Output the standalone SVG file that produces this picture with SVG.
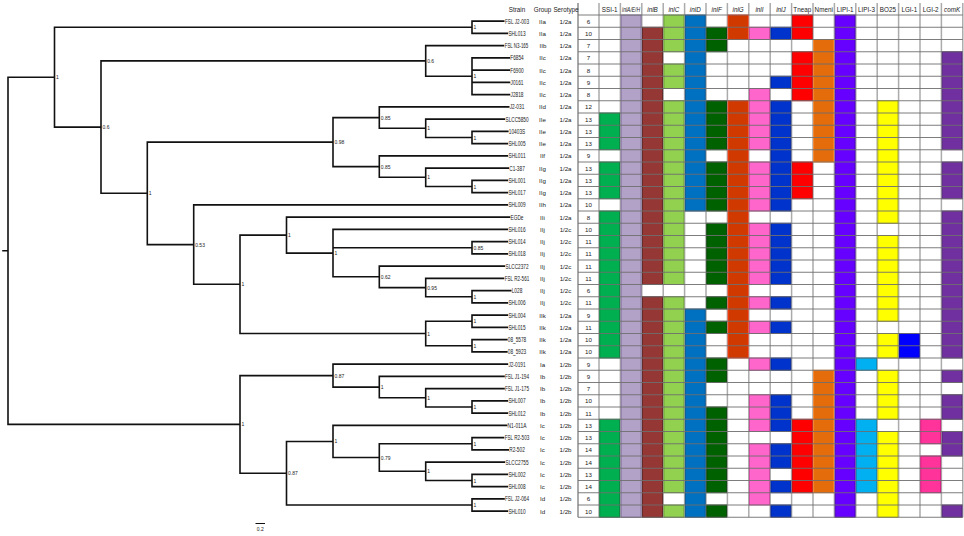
<svg xmlns="http://www.w3.org/2000/svg" width="964" height="536" viewBox="0 0 964 536">
<style>
text{font-family:"Liberation Sans",Arial,sans-serif;fill:#222}
.hd text{font-size:6.3px;text-anchor:middle}
.hd .it{font-style:italic}
.row text{font-size:6.2px;text-anchor:middle}
.row .s{font-size:6.8px}
.nl text{font-size:5px}
.tree{fill:none;stroke:#111;stroke-width:1.6;stroke-linecap:square}
.vg{fill:none;stroke:#ababab;stroke-width:1.5}
.hg{fill:none;stroke:#6e6e6e;stroke-width:0.9}
.cells rect{width:19.9px;stroke-width:0.9}
.c0 rect{fill:#00b050;stroke:#007a36}
.c1 rect{fill:#b3a2c7;stroke:#7d6899}
.c2 rect{fill:#953735;stroke:#5e201f}
.c3 rect{fill:#92d050;stroke:#6aa030}
.c4 rect{fill:#0070c0;stroke:#004f8a}
.c5 rect{fill:#006100;stroke:#003a00}
.c6 rect{fill:#d03a00;stroke:#ff2a00}
.c7 rect{fill:#ff66cc;stroke:#cc4499}
.c8 rect{fill:#0033cc;stroke:#001f88}
.c9 rect{fill:#ff0000;stroke:#c00000}
.c10 rect{fill:#e46c0a;stroke:#ff7a10}
.c11 rect{fill:#6600ff;stroke:#4400aa}
.c12 rect{fill:#00b0f0;stroke:#0088bb}
.c13 rect{fill:#ffff00;stroke:#b8b800}
.c14 rect{fill:#0000ff;stroke:#0000aa}
.c15 rect{fill:#ff3399;stroke:#cc1177}
.c16 rect{fill:#7030a0;stroke:#4b1e6e}
</style>
<rect width="964" height="536" fill="#fff"/>

<g id="grid-vertical">
<path class="vg" d="M599,3V517.25M620.4,3V517.25M641.8,3V517.25M663.2,3V517.25M684.6,3V517.25M706,3V517.25M727.4,3V517.25M748.8,3V517.25M770.2,3V517.25M791.6,3V517.25M813,3V517.25M834.4,3V517.25M855.8,3V517.25M877.2,3V517.25M898.6,3V517.25M920,3V517.25M941.4,3V517.25M962.8,3V517.25"/>
<path d="M578,3V517.25" fill="none" stroke="#7a7a7a" stroke-width="1.3"/>
</g>

<g id="cells" class="cells">
<g id="col-SSI-1" class="c0" transform="translate(599.75,0)"><rect y="113" height="36.75"/><rect y="162" height="36.75"/><rect y="211" height="147"/><rect y="419.25" height="98"/></g>
<g id="col-inlAEH" class="c1" transform="translate(621.15,0)"><rect y="15" height="502.25"/></g>
<g id="col-inlB" class="c2" transform="translate(642.55,0)"><rect y="27.25" height="257.25"/><rect y="296.75" height="220.5"/></g>
<g id="col-inlC" class="c3" transform="translate(663.95,0)"><rect y="15" height="36.75"/><rect y="64" height="24.5"/><rect y="100.75" height="183.75"/><rect y="296.75" height="196"/><rect y="505" height="12.25"/></g>
<g id="col-inlD" class="c4" transform="translate(685.35,0)"><rect y="15" height="196"/><rect y="309" height="208.25"/></g>
<g id="col-inlF" class="c5" transform="translate(706.75,0)"><rect y="27.25" height="24.5"/><rect y="100.75" height="49"/><rect y="162" height="49"/><rect y="223.25" height="61.25"/><rect y="296.75" height="12.25"/><rect y="321.25" height="12.25"/><rect y="358" height="24.5"/><rect y="407" height="85.75"/><rect y="505" height="12.25"/></g>
<g id="col-inlG" class="c6" transform="translate(728.15,0)"><rect y="15" height="24.5"/><rect y="100.75" height="257.25"/></g>
<g id="col-inlI" class="c7" transform="translate(749.55,0)"><rect y="27.25" height="12.25"/><rect y="88.5" height="61.25"/><rect y="162" height="49"/><rect y="223.25" height="61.25"/><rect y="296.75" height="12.25"/><rect y="321.25" height="12.25"/><rect y="358" height="12.25"/><rect y="394.75" height="36.75"/><rect y="443.75" height="61.25"/></g>
<g id="col-inlJ" class="c8" transform="translate(770.95,0)"><rect y="27.25" height="12.25"/><rect y="76.25" height="12.25"/><rect y="100.75" height="110.25"/><rect y="223.25" height="61.25"/><rect y="296.75" height="12.25"/><rect y="321.25" height="12.25"/><rect y="358" height="12.25"/><rect y="394.75" height="36.75"/><rect y="443.75" height="24.5"/><rect y="480.5" height="12.25"/><rect y="505" height="12.25"/></g>
<g id="col-Tneap" class="c9" transform="translate(792.35,0)"><rect y="15" height="24.5"/><rect y="51.75" height="49"/><rect y="162" height="36.75"/><rect y="419.25" height="73.5"/></g>
<g id="col-Nmeni" class="c10" transform="translate(813.75,0)"><rect y="39.5" height="122.5"/><rect y="370.25" height="122.5"/></g>
<g id="col-LIPI-1" class="c11" transform="translate(835.15,0)"><rect y="15" height="502.25"/></g>
<g id="col-LIPI-3" class="c12" transform="translate(856.55,0)"><rect y="358" height="12.25"/><rect y="419.25" height="73.5"/></g>
<g id="col-BO25" class="c13" transform="translate(877.95,0)"><rect y="100.75" height="122.5"/><rect y="235.5" height="85.75"/><rect y="333.5" height="24.5"/><rect y="370.25" height="49"/><rect y="431.5" height="85.75"/></g>
<g id="col-LGI-1" class="c14" transform="translate(899.35,0)"><rect y="333.5" height="24.5"/></g>
<g id="col-LGI-2" class="c15" transform="translate(920.75,0)"><rect y="419.25" height="24.5"/><rect y="456" height="36.75"/></g>
<g id="col-comK" class="c16" transform="translate(942.15,0)"><rect y="51.75" height="98"/><rect y="162" height="36.75"/><rect y="211" height="147"/><rect y="370.25" height="12.25"/><rect y="394.75" height="24.5"/><rect y="431.5" height="24.5"/><rect y="505" height="12.25"/></g>
</g>

<g id="grid-horizontal">
<path class="hg" d="M578,15H962.8M578,27.25H962.8M578,39.5H962.8M578,51.75H962.8M578,64H962.8M578,76.25H962.8M578,88.5H962.8M578,100.75H962.8M578,113H962.8M578,125.25H962.8M578,137.5H962.8M578,149.75H962.8M578,162H962.8M578,174.25H962.8M578,186.5H962.8M578,198.75H962.8M578,211H962.8M578,223.25H962.8M578,235.5H962.8M578,247.75H962.8M578,260H962.8M578,272.25H962.8M578,284.5H962.8M578,296.75H962.8M578,309H962.8M578,321.25H962.8M578,333.5H962.8M578,345.75H962.8M578,358H962.8M578,370.25H962.8M578,382.5H962.8M578,394.75H962.8M578,407H962.8M578,419.25H962.8M578,431.5H962.8M578,443.75H962.8M578,456H962.8M578,468.25H962.8M578,480.5H962.8M578,492.75H962.8M578,505H962.8M578,517.25H962.8"/>
</g>

<g id="header" class="hd" transform="translate(0,11.5)">
<text x="517">Strain</text><text x="542.5">Group</text><text x="566">Serotype</text>
<text x="609.7">SSI-1</text>
<text x="631.1" class="it" textLength="18" lengthAdjust="spacingAndGlyphs">inlA/E/H</text>
<text x="652.5" class="it">inlB</text>
<text x="673.9" class="it">inlC</text>
<text x="695.3" class="it">inlD</text>
<text x="716.7" class="it">inlF</text>
<text x="738.1" class="it">inlG</text>
<text x="759.5" class="it">inlI</text>
<text x="780.9" class="it">inlJ</text>
<text x="802.3">Tneap</text>
<text x="823.7">Nmeni</text>
<text x="845.1">LIPI-1</text>
<text x="866.5">LIPI-3</text>
<text x="887.9">BO25</text>
<text x="909.3">LGI-1</text>
<text x="930.7">LGI-2</text>
<text x="952.1" class="it">comK</text>
</g>

<g id="rows" class="row">
<g id="r01" transform="translate(0,23.5)"><text x="517" class="s" textLength="24" lengthAdjust="spacingAndGlyphs">FSL J2-003</text><text x="542.5">IIa</text><text x="565.5">1/2a</text><text x="588.5">6</text></g>
<g id="r02" transform="translate(0,35.8)"><text x="517" class="s" textLength="17.2" lengthAdjust="spacingAndGlyphs">SHL013</text><text x="542.5">IIa</text><text x="565.5">1/2a</text><text x="588.5">10</text></g>
<g id="r03" transform="translate(0,48)"><text x="516.5" class="s" textLength="23.5" lengthAdjust="spacingAndGlyphs">FSL N3-165</text><text x="543">IIb</text><text x="565.5">1/2a</text><text x="588.5">7</text></g>
<g id="r04" transform="translate(0,60.3)"><text x="517" class="s" textLength="13.5" lengthAdjust="spacingAndGlyphs">F6854</text><text x="542.5">IIc</text><text x="565.5">1/2a</text><text x="588.5">7</text></g>
<g id="r05" transform="translate(0,72.5)"><text x="517" class="s" textLength="13.5" lengthAdjust="spacingAndGlyphs">F6900</text><text x="542.5">IIc</text><text x="565.5">1/2a</text><text x="588.5">8</text></g>
<g id="r06" transform="translate(0,84.8)"><text x="517" class="s" textLength="13" lengthAdjust="spacingAndGlyphs">J0161</text><text x="542.5">IIc</text><text x="565.5">1/2a</text><text x="588.5">9</text></g>
<g id="r07" transform="translate(0,97)"><text x="517" class="s" textLength="13" lengthAdjust="spacingAndGlyphs">J2818</text><text x="542.5">IIc</text><text x="565.5">1/2a</text><text x="588.5">8</text></g>
<g id="r08" transform="translate(0,109.3)"><text x="517" class="s" textLength="14.6" lengthAdjust="spacingAndGlyphs">J2-031</text><text x="542.5">IId</text><text x="565.5">1/2a</text><text x="588.5">12</text></g>
<g id="r09" transform="translate(0,121.5)"><text x="517" class="s" textLength="23" lengthAdjust="spacingAndGlyphs">SLCC5850</text><text x="542.5">IIe</text><text x="565.5">1/2a</text><text x="588.5">13</text></g>
<g id="r10" transform="translate(0,133.8)"><text x="517" class="s" textLength="16.4" lengthAdjust="spacingAndGlyphs">10403S</text><text x="542.5">IIe</text><text x="565.5">1/2a</text><text x="588.5">13</text></g>
<g id="r11" transform="translate(0,146)"><text x="517" class="s" textLength="17.2" lengthAdjust="spacingAndGlyphs">SHL005</text><text x="542.5">IIe</text><text x="565.5">1/2a</text><text x="588.5">13</text></g>
<g id="r12" transform="translate(0,158.3)"><text x="517" class="s" textLength="17.2" lengthAdjust="spacingAndGlyphs">SHL011</text><text x="542.5">IIf</text><text x="565.5">1/2a</text><text x="588.5">9</text></g>
<g id="r13" transform="translate(0,170.5)"><text x="517" class="s" textLength="15.6" lengthAdjust="spacingAndGlyphs">C1-387</text><text x="542.5">IIg</text><text x="565.5">1/2a</text><text x="588.5">13</text></g>
<g id="r14" transform="translate(0,182.8)"><text x="517" class="s" textLength="17.2" lengthAdjust="spacingAndGlyphs">SHL001</text><text x="542.5">IIg</text><text x="565.5">1/2a</text><text x="588.5">13</text></g>
<g id="r15" transform="translate(0,195)"><text x="517" class="s" textLength="17.2" lengthAdjust="spacingAndGlyphs">SHL017</text><text x="542.5">IIg</text><text x="565.5">1/2a</text><text x="588.5">13</text></g>
<g id="r16" transform="translate(0,207.3)"><text x="517" class="s" textLength="17.2" lengthAdjust="spacingAndGlyphs">SHL009</text><text x="542.5">IIh</text><text x="565.5">1/2a</text><text x="588.5">10</text></g>
<g id="r17" transform="translate(0,219.5)"><text x="517" class="s" textLength="13" lengthAdjust="spacingAndGlyphs">EGDe</text><text x="542.5">IIi</text><text x="565.5">1/2a</text><text x="588.5">8</text></g>
<g id="r18" transform="translate(0,231.8)"><text x="517" class="s" textLength="17.2" lengthAdjust="spacingAndGlyphs">SHL016</text><text x="542.5">IIj</text><text x="565.5">1/2c</text><text x="588.5">10</text></g>
<g id="r19" transform="translate(0,244)"><text x="517" class="s" textLength="17.2" lengthAdjust="spacingAndGlyphs">SHL014</text><text x="542.5">IIj</text><text x="565.5">1/2c</text><text x="588.5">11</text></g>
<g id="r20" transform="translate(0,256.3)"><text x="517" class="s" textLength="17.2" lengthAdjust="spacingAndGlyphs">SHL018</text><text x="542.5">IIj</text><text x="565.5">1/2c</text><text x="588.5">11</text></g>
<g id="r21" transform="translate(0,268.5)"><text x="517" class="s" textLength="23" lengthAdjust="spacingAndGlyphs">SLCC2372</text><text x="542.5">IIj</text><text x="565.5">1/2c</text><text x="588.5">11</text></g>
<g id="r22" transform="translate(0,280.8)"><text x="517" class="s" textLength="24.6" lengthAdjust="spacingAndGlyphs">FSL R2-561</text><text x="542.5">IIj</text><text x="565.5">1/2c</text><text x="588.5">11</text></g>
<g id="r23" transform="translate(0,293)"><text x="517" class="s" textLength="10.6" lengthAdjust="spacingAndGlyphs">L028</text><text x="542.5">IIj</text><text x="565.5">1/2c</text><text x="588.5">6</text></g>
<g id="r24" transform="translate(0,305.3)"><text x="517" class="s" textLength="17.2" lengthAdjust="spacingAndGlyphs">SHL006</text><text x="542.5">IIj</text><text x="565.5">1/2c</text><text x="588.5">11</text></g>
<g id="r25" transform="translate(0,317.5)"><text x="517" class="s" textLength="17.2" lengthAdjust="spacingAndGlyphs">SHL004</text><text x="542.5">IIk</text><text x="565.5">1/2a</text><text x="588.5">9</text></g>
<g id="r26" transform="translate(0,329.8)"><text x="517" class="s" textLength="17.2" lengthAdjust="spacingAndGlyphs">SHL015</text><text x="542.5">IIk</text><text x="565.5">1/2a</text><text x="588.5">11</text></g>
<g id="r27" transform="translate(0,342)"><text x="517" class="s" textLength="18.5" lengthAdjust="spacingAndGlyphs">08_5578</text><text x="542.5">IIk</text><text x="565.5">1/2a</text><text x="588.5">10</text></g>
<g id="r28" transform="translate(0,354.3)"><text x="517" class="s" textLength="18.5" lengthAdjust="spacingAndGlyphs">08_5923</text><text x="542.5">IIk</text><text x="565.5">1/2a</text><text x="588.5">10</text></g>
<g id="r29" transform="translate(0,366.5)"><text x="517" class="s" textLength="17.2" lengthAdjust="spacingAndGlyphs">J2-0191</text><text x="542.5">Ia</text><text x="565.5">1/2b</text><text x="588.5">9</text></g>
<g id="r30" transform="translate(0,378.8)"><text x="517" class="s" textLength="24" lengthAdjust="spacingAndGlyphs">FSL J1-194</text><text x="542.5">Ib</text><text x="565.5">1/2b</text><text x="588.5">9</text></g>
<g id="r31" transform="translate(0,391)"><text x="517" class="s" textLength="24" lengthAdjust="spacingAndGlyphs">FSL J1-175</text><text x="542.5">Ib</text><text x="565.5">1/2b</text><text x="588.5">7</text></g>
<g id="r32" transform="translate(0,403.3)"><text x="517" class="s" textLength="17.2" lengthAdjust="spacingAndGlyphs">SHL007</text><text x="542.5">Ib</text><text x="565.5">1/2b</text><text x="588.5">10</text></g>
<g id="r33" transform="translate(0,415.5)"><text x="517" class="s" textLength="17.2" lengthAdjust="spacingAndGlyphs">SHL012</text><text x="542.5">Ib</text><text x="565.5">1/2b</text><text x="588.5">11</text></g>
<g id="r34" transform="translate(0,427.8)"><text x="517" class="s" textLength="18.8" lengthAdjust="spacingAndGlyphs">N1-011A</text><text x="542.5">Ic</text><text x="565.5">1/2b</text><text x="588.5">13</text></g>
<g id="r35" transform="translate(0,440)"><text x="517" class="s" textLength="24.6" lengthAdjust="spacingAndGlyphs">FSL R2-503</text><text x="542.5">Ic</text><text x="565.5">1/2b</text><text x="588.5">13</text></g>
<g id="r36" transform="translate(0,452.3)"><text x="517" class="s" textLength="15.6" lengthAdjust="spacingAndGlyphs">R2-502</text><text x="542.5">Ic</text><text x="565.5">1/2b</text><text x="588.5">14</text></g>
<g id="r37" transform="translate(0,464.5)"><text x="517" class="s" textLength="23" lengthAdjust="spacingAndGlyphs">SLCC2755</text><text x="542.5">Ic</text><text x="565.5">1/2b</text><text x="588.5">14</text></g>
<g id="r38" transform="translate(0,476.8)"><text x="517" class="s" textLength="17.2" lengthAdjust="spacingAndGlyphs">SHL002</text><text x="542.5">Ic</text><text x="565.5">1/2b</text><text x="588.5">13</text></g>
<g id="r39" transform="translate(0,489)"><text x="517" class="s" textLength="17.2" lengthAdjust="spacingAndGlyphs">SHL008</text><text x="542.5">Ic</text><text x="565.5">1/2b</text><text x="588.5">14</text></g>
<g id="r40" transform="translate(0,501.3)"><text x="517" class="s" textLength="24" lengthAdjust="spacingAndGlyphs">FSL J2-064</text><text x="542.5">Id</text><text x="565.5">1/2b</text><text x="588.5">6</text></g>
<g id="r41" transform="translate(0,513.5)"><text x="517" class="s" textLength="17.2" lengthAdjust="spacingAndGlyphs">SHL010</text><text x="542.5">Id</text><text x="565.5">1/2b</text><text x="588.5">10</text></g>
</g>

<g id="connectors">
<path class="tree" d="
M472,21.1V33.4M472,21.1H503.7M472,33.4H507.4
M472,57.9V94.6M472,57.9H509.3M472,70.1H509.3M472,82.4H509.5M472,94.6H509.5
M425.7,45.6V76.25M425.7,45.6H503.5M425.7,76.25H472
M472,131.4V143.6M472,131.4H507.8M472,143.6H507.4
M425.7,119.1V137.5M425.7,119.1H504.4M425.7,137.5H472
M379.3,106.9V128.3M379.3,106.9H508.7M379.3,128.3H425.7
M472,180.4V192.6M472,180.4H507.4M472,192.6H507.4
M425.7,168.1V186.5M425.7,168.1H508.2M425.7,186.5H472
M379.3,155.9V177.3M379.3,155.9H507.4M379.3,177.3H425.7
M333,117.6V166.6M333,117.6H379.3M333,166.6H379.3
M472,241.6V253.9M472,241.6H507.4M472,253.9H507.4
M472,290.6V302.9M472,290.6H510.7M472,302.9H507.4
M425.7,278.4V296.75M425.7,278.4H503.5M425.7,296.75H472
M379.3,266.1V287.6M379.3,266.1H504.4M379.3,287.6H425.7
M333,229.4V276.8M333,229.4H507.4M333,247.75H472M333,276.8H379.3
M286.5,217.1V253.1M286.5,217.1H509.5M286.5,253.1H333
M472,315.1V327.4M472,315.1H507.4M472,327.4H507.4
M472,339.6V351.9M472,339.6H506.8M472,351.9H506.8
M425.7,321.25V345.75M425.7,321.25H472M425.7,345.75H472
M240,235.1V333.5M240,235.1H286.5M240,333.5H425.7
M193.7,204.9V284.3M193.7,204.9H507.4M193.7,284.3H240
M147.3,142.1V244.6M147.3,142.1H333M147.3,244.6H193.7
M101,60.9V193.3M101,60.9H425.7M101,193.3H147.3
M54.5,27.25V127.1M54.5,27.25H472M54.5,127.1H101
M472,400.9V413.1M472,400.9H507.4M472,413.1H507.4
M425.7,388.6V407M425.7,388.6H504M425.7,407H472
M379.3,376.4V397.8M379.3,376.4H504M379.3,397.8H425.7
M333,364.1V387.1M333,364.1H507.4M333,387.1H379.3
M472,437.6V449.9M472,437.6H503.5M472,449.9H508.2
M472,474.4V486.6M472,474.4H507.4M472,486.6H507.4
M425.7,462.1V480.5M425.7,462.1H504.4M425.7,480.5H472
M379.3,443.75V471.3M379.3,443.75H472M379.3,471.3H425.7
M333,425.4V457.5M333,425.4H506.6M333,457.5H379.3
M472,498.9V511.1M472,498.9H504M472,511.1H507.4
M286.5,441.45V505M286.5,441.45H333M286.5,505H472
M240,375.6V473.2M240,375.6H333M240,473.2H286.5
M8,77.2V424.4M8,77.2H54.5M8,424.4H240M3,250.8H8"/>
</g>

<g id="node-labels" class="nl">
<text x="56" y="79.2">1</text>
<text x="473.5" y="29.2">1</text>
<text x="102.5" y="129.1">0.6</text>
<text x="427.2" y="62.9">0.6</text>
<text x="473.5" y="78.2">1</text>
<text x="148.8" y="195.3">1</text>
<text x="334.5" y="144.1">0.98</text>
<text x="380.8" y="119.6">0.85</text>
<text x="427.2" y="130.3">1</text>
<text x="473.5" y="139.5">1</text>
<text x="380.8" y="168.6">0.85</text>
<text x="427.2" y="179.3">1</text>
<text x="473.5" y="188.5">1</text>
<text x="195.2" y="246.6">0.53</text>
<text x="241.5" y="286.3">1</text>
<text x="288" y="237.1">1</text>
<text x="334.5" y="255.1">1</text>
<text x="473.5" y="249.7">0.85</text>
<text x="380.8" y="278.8">0.62</text>
<text x="427.2" y="289.6">0.95</text>
<text x="473.5" y="298.7">1</text>
<text x="427.2" y="335.5">1</text>
<text x="473.5" y="323.2">1</text>
<text x="473.5" y="347.7">1</text>
<text x="241.5" y="426.4">1</text>
<text x="334.5" y="377.6">0.87</text>
<text x="380.8" y="389.1">1</text>
<text x="427.2" y="399.8">1</text>
<text x="473.5" y="409">1</text>
<text x="288" y="475.2">0.87</text>
<text x="334.5" y="443.4">1</text>
<text x="473.5" y="445.7">1</text>
<text x="380.8" y="459.5">0.79</text>
<text x="427.2" y="473.3">1</text>
<text x="473.5" y="482.5">1</text>
<text x="473.5" y="507">1</text>
</g>

<g id="scale-bar">
<path d="M255.5,523.5H265" stroke="#111" stroke-width="1" fill="none"/>
<text x="260.2" y="531" font-size="5" text-anchor="middle">0.2</text>
</g>
</svg>
